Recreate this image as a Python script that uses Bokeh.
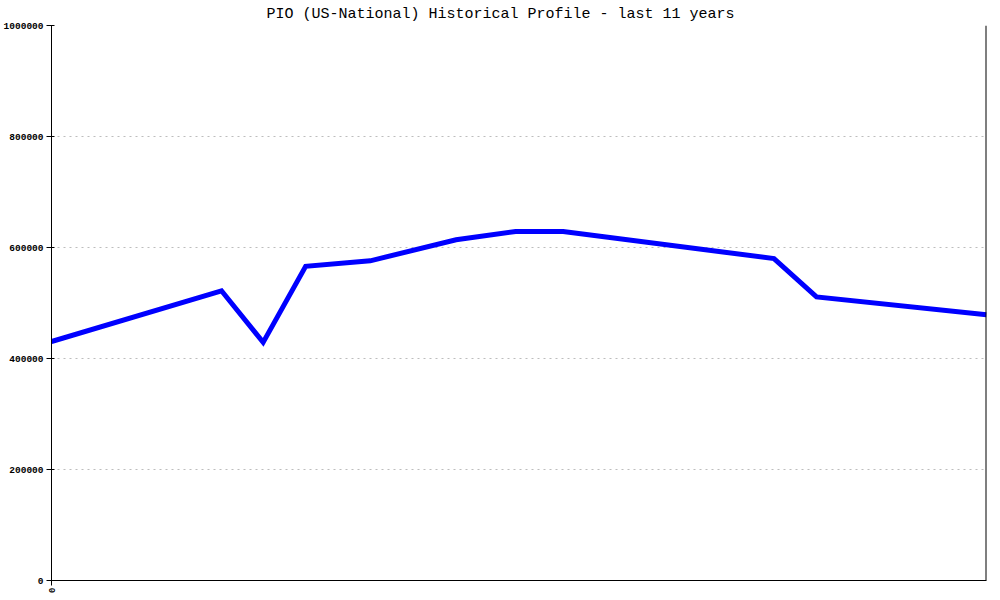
import math
from bokeh.plotting import figure
from bokeh.models import FixedTicker, Span, Title, Range1d
from bokeh.embed import file_html
from bokeh.resources import INLINE

# years since start of 11-year window
years = [0.0, 2.0, 2.49, 2.99, 3.75, 4.76, 5.46, 6.02, 8.5, 9.0, 11.0]
values = [430500, 522000, 429000, 566000, 576000, 614000, 629000, 629000, 580000, 511000, 479000]
y_ticks = [0, 200000, 400000, 600000, 800000, 1000000]
x_ticks = [0]
title_text = "PIO (US-National) Historical Profile - last 11 years"

FONT = "Liberation Mono"

p = figure(
    output_backend="svg", toolbar_location=None,
    frame_width=935, frame_height=555,
    min_border_left=42, min_border_right=7, min_border_top=0, min_border_bottom=12,
    x_range=Range1d(0, 11), y_range=Range1d(0, 1000000),
)
p.title = Title(text=title_text, align="left", text_font=FONT, text_font_size="15px",
                text_font_style="normal", text_color="black", standoff=6, offset=215)
p.title.text_line_height = 1.0

p.outline_line_color = None
p.background_fill_color = "white"
p.border_fill_color = "white"

# axes
p.yaxis.ticker = FixedTicker(ticks=y_ticks)
p.yaxis.major_label_overrides = {v: str(v) for v in y_ticks}
p.yaxis.major_label_text_font = FONT
p.yaxis.major_label_text_font_size = "9.5px"
p.yaxis.major_label_text_font_style = "bold"
p.yaxis.major_label_text_color = "black"
p.yaxis.major_tick_out = 5
p.yaxis.major_tick_in = 3
p.yaxis.minor_tick_line_color = None
p.yaxis.major_label_standoff = 3
p.yaxis.axis_line_color = "black"
p.yaxis.major_tick_line_color = "black"

p.xaxis.ticker = FixedTicker(ticks=x_ticks)
p.xaxis.major_label_overrides = {0: "0"}
p.xaxis.major_label_orientation = math.pi / 2
p.xaxis.major_label_text_font = FONT
p.xaxis.major_label_text_font_size = "9px"
p.xaxis.major_label_text_font_style = "bold"
p.xaxis.major_label_text_color = "black"
p.xaxis.major_tick_out = 5
p.xaxis.major_tick_in = 0
p.xaxis.minor_tick_line_color = None
p.xaxis.major_label_standoff = 2
p.xaxis.axis_line_color = "black"
p.xaxis.major_tick_line_color = "black"

p.xgrid.grid_line_color = None
p.ygrid.grid_line_color = "#bdbdbd"
p.ygrid.grid_line_dash = "2 4"
p.ygrid.grid_line_width = 1

p.add_layout(Span(location=11, dimension="height", line_color="black", line_width=2))

p.line(years, values, line_color="#0000ff", line_width=5, line_join="miter")

open("out.html", "w").write(file_html(p, INLINE))
